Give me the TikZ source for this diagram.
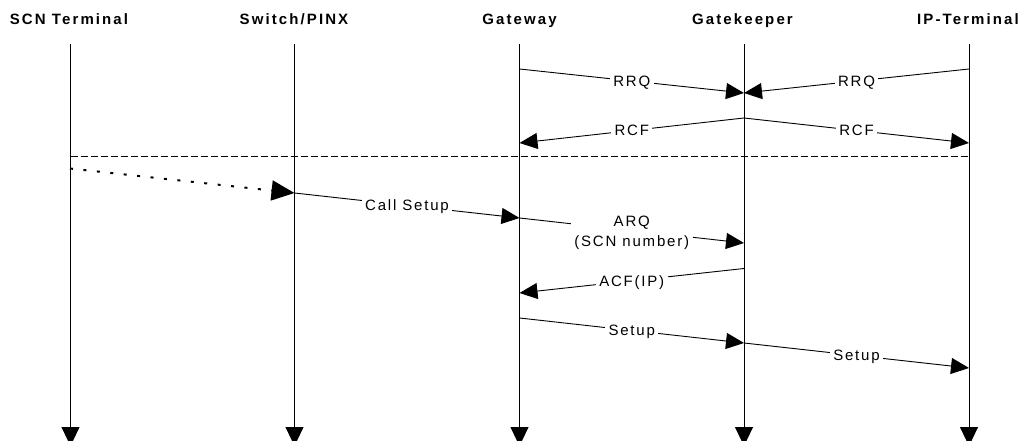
\documentclass[tikz,border=0pt]{standalone}
\usepackage{fontspec}
\setmainfont{Liberation Sans}
\newfontfamily\msgfont[LetterSpace=12]{Liberation Sans}
\newfontfamily\headfont[LetterSpace=14]{Liberation Sans}
\usetikzlibrary{arrows.meta}
\tikzset{
  px/.style={x=1pt,y=-1pt},
  head/.style={font=\headfont\bfseries\fontsize{15}{17}\selectfont,inner sep=0pt,anchor=center,text height=10.7pt,text depth=0pt},
  msgarrow/.style={line width=0.9pt,-{Triangle[length=18pt,width=16pt]}},
  lifeline/.style={line width=0.9pt,-{Triangle[length=19pt,width=18pt]}},
  msgbase/.style={font=\msgfont\fontsize{15}{20}\selectfont,fill=white,inner xsep=3.5pt,inner ysep=2pt,align=center},
  msglabel/.style={msgbase,text height=10.7pt,text depth=0pt},
  msglabeltwo/.style={msgbase,yshift=-2pt},
  divider/.style={line width=0.8pt,dash pattern=on 7pt off 3pt},
  dottedmsg/.style={line width=2pt,dash pattern=on 3pt off 10.5pt,-{Triangle[length=23pt,width=20pt]}}
}
\begin{document}
\begin{tikzpicture}[px]
\useasboundingbox (0,0) rectangle (1021,441);
\clip (0,0) rectangle (1021,441);
% lifeline heads
\node[head] (scn) at (69,19.5) {SCN Terminal};
\node[head] (pinx) at (294,19.5) {Switch/PINX};
\node[head] (gw) at (519.5,19.5) {Gateway};
\node[head] (gk) at (742.5,19.5) {Gatekeeper};
\node[head] (ip) at (968,19.5) {IP-Terminal};
% lifeline ends
\foreach \n/\x in {scn/70.5,pinx/294.5,gw/519.5,gk/744,ip/969}{
  \coordinate (\n top) at (\x,44);
  \coordinate (\n end) at (\x,446);
  \draw[lifeline] (\n top) -- (\n end);
}
% message anchor points
\coordinate (gwA) at (519.5,69);
\coordinate (gkA) at (744,93);
\coordinate (ipA) at (969,69);
\coordinate (gkB) at (744,118);
\coordinate (gwB) at (519.5,143);
\coordinate (ipB) at (969,143);
\coordinate (scnD) at (70.5,156);
\coordinate (ipD) at (969,156);
\coordinate (scnC) at (70,168.5);
\coordinate (pinxC) at (294.5,193);
\coordinate (gwC) at (519.5,218);
\coordinate (gkC) at (744,243);
\coordinate (gkE) at (744,268.5);
\coordinate (gwE) at (519.5,293);
\coordinate (gwF) at (519.5,318);
\coordinate (gkF) at (744,343);
\coordinate (ipF) at (969,368);
% divider
\draw[divider] (scnD) -- (ipD);
% messages
\draw[msgarrow] (gwA) -- node[msglabel] {RRQ} (gkA);
\draw[msgarrow] (ipA) -- node[msglabel] {RRQ} (gkA);
\draw[msgarrow] (gkB) -- node[msglabel] {RCF} (gwB);
\draw[msgarrow] (gkB) -- node[msglabel] {RCF} (ipB);
\draw[dottedmsg] (scnC) -- (pinxC);
\draw[msgarrow] (pinxC) -- node[msglabel] {Call Setup} (gwC);
\draw[msgarrow] (gwC) -- node[msglabeltwo] {ARQ\\(SCN number)} (gkC);
\draw[msgarrow] (gkE) -- node[msglabel] {ACF(IP)} (gwE);
\draw[msgarrow] (gwF) -- node[msglabel] {Setup} (gkF);
\draw[msgarrow] (gkF) -- node[msglabel] {Setup} (ipF);
\end{tikzpicture}
\end{document}
